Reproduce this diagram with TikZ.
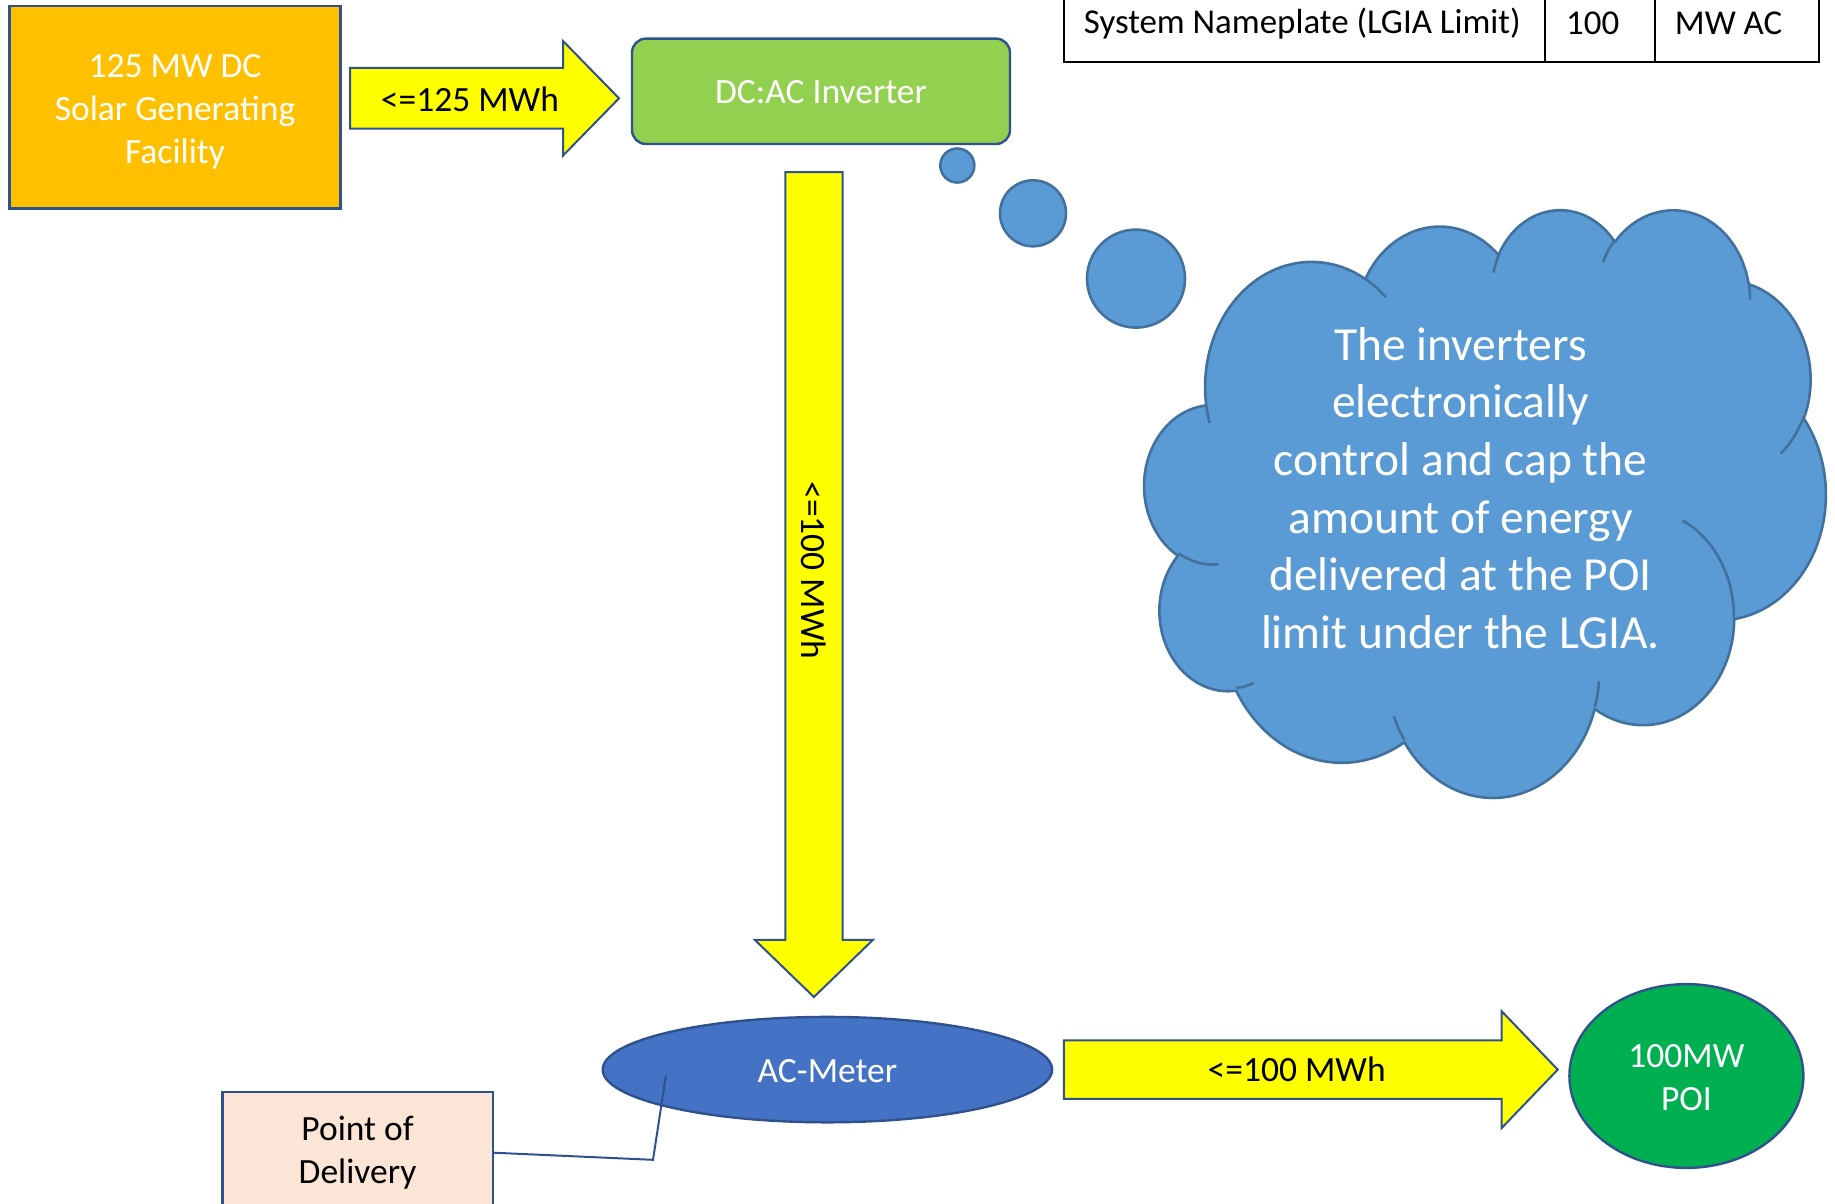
\documentclass[tikz,border=0pt]{standalone}
\usepackage{fontspec}
\setmainfont{Carlito}
\usetikzlibrary{shapes.geometric}

\definecolor{edgeblue}{HTML}{2F528F}
\definecolor{solarorange}{HTML}{FFC000}
\definecolor{invgreen}{HTML}{92D050}
\definecolor{flowyellow}{HTML}{FFFF00}
\definecolor{meterblue}{HTML}{4472C4}
\definecolor{poigreen}{HTML}{00B050}
\definecolor{podpeach}{HTML}{FBE5D6}
\definecolor{cloudfill}{HTML}{5B9BD5}
\definecolor{cloudedge}{HTML}{41719C}

\newcommand\bodyfont{\fontsize{35.5}{43.3}\selectfont}
\newcommand\tablefont{\fontsize{34.9}{43.3}\selectfont}
\newcommand\cloudfont{\fontsize{47.5}{57.6}\selectfont}

\begin{document}
\begin{tikzpicture}[x=1pt,y=-1pt,
  shapebox/.style={draw=edgeblue, line width=2.4pt, align=center, inner sep=0pt, font=\bodyfont},
  boxtext/.style={align=center, inner sep=0pt, font=\bodyfont},
  blockarrow/.style={draw=edgeblue, line width=2pt, fill=flowyellow, line join=miter},
  flowlabel/.style={font=\bodyfont, text=black, inner sep=0pt},
  tablecell/.style={draw=black, line width=2pt, rectangle, inner sep=0pt},
  celltext/.style={font=\tablefont, anchor=west, inner sep=0pt},
  bubble/.style={circle, draw=cloudedge, line width=2.6pt, fill=cloudfill, inner sep=0pt},
  cloudline/.style={draw=cloudedge, line width=2.6pt},
  conn/.style={draw=edgeblue, line width=2pt}
]
\useasboundingbox (0,0) rectangle (1835,1203);
\clip (0,0) rectangle (1835,1203);

% ---- nameplate table ----
\node[tablecell, minimum width=481, minimum height=102] (cellA) at (1304.5,11) {};
\node[tablecell, minimum width=110, minimum height=102] (cellB) at (1600,11) {};
\node[tablecell, minimum width=164, minimum height=102] (cellC) at (1737,11) {};
\node[celltext] (nameplate) at (1083.7,23.4) {System Nameplate (LGIA Limit)};
\node[celltext] (limitvalue) at (1565.9,23.4) {100};
\node[celltext] (limitunit) at (1674.7,23.4) {MW AC};

% ---- main blocks ----
\node[shapebox, fill=solarorange, minimum width=331.2, minimum height=202.4]
  (solar) at (175,107.1) {};
\node[boxtext, text=white, yshift=-4.7pt] (solartext) at (solar.center)
  {125 MW DC\\Solar Generating\\Facility};
\node[shapebox, fill=invgreen, text=white, rounded corners=14pt, minimum width=378, minimum height=105.4]
  (inverter) at (821,91.3) {};
\node[boxtext, text=white, yshift=-1.2pt] (invtext) at (inverter.center) {DC:AC Inverter};
\node[shapebox, ellipse, fill=meterblue, text=white, minimum width=449.4, minimum height=105.4]
  (meter) at (827.4,1069.6) {};
\node[boxtext, text=white, yshift=-1.2pt] (metertext) at (meter.center) {AC-Meter};
\node[shapebox, ellipse, fill=poigreen, text=white, minimum width=234, minimum height=183.8]
  (poi) at (1686.4,1076) {};
\node[boxtext, text=white, yshift=-1.5pt] (poitext) at (poi.center) {100MW\\POI};
\node[shapebox, fill=podpeach, text=black, minimum width=270.3, minimum height=121.4]
  (pod) at (357.55,1152.7) {Point of\\Delivery};

% ---- block arrows ----
\draw[blockarrow] (350,67.9) -- (563,67.9) -- (563,41) -- (619,98.3) -- (563,155.6)
  -- (563,128.7) -- (350,128.7) -- cycle;
\node[flowlabel] (flowA) at (469.9,99.5) {<=125 MWh};

\draw[blockarrow] (785.3,172) -- (842.6,172) -- (842.6,939.8) -- (873,939.8) -- (813.9,997)
  -- (754.8,939.8) -- (785.3,939.8) -- cycle;
\node[flowlabel, rotate=-90] (flowB) at (813.9,570.5) {<=100 MWh};

\draw[blockarrow] (1063.8,1040.4) -- (1501.5,1040.4) -- (1501.5,1011) -- (1557.7,1069.6)
  -- (1501.5,1128.2) -- (1501.5,1098.9) -- (1063.8,1098.9) -- cycle;
\node[flowlabel] (flowC) at (1296.7,1069.6) {<=100 MWh};

% ---- callout line from the point of delivery ----
\coordinate (podbend) at (653,1159.8);
\coordinate (meterpin) at (665.9,1075.5);
\draw[conn] (pod.east) -- (podbend) -- (meterpin);

% ---- thought bubbles ----
\node[bubble, minimum size=34] (dotA) at (957.3,165.5) {};
\node[bubble, minimum size=66] (dotB) at (1033,213.3) {};
\node[bubble, minimum size=98] (dotC) at (1136,278.6) {};

% ---- cloud (arc chain on a 4320 x 4320 grid) ----
\begin{scope}[shift={(1144.6pt,-208.3pt)}, x=0.15764pt, y=-0.13600pt]
  \path[fill=cloudfill, draw=cloudedge, line width=2.6pt, line join=round] (390,1437)
    arc[start angle=172.25, end angle=300.36, x radius=675.3, y radius=919.0]
    arc[start angle=-152.02, end angle=-45.45, x radius=533.3, y radius=726.7]
    arc[start angle=-153.49, end angle=-37.33, x radius=436.5, y radius=594.5]
    arc[start angle=-139.72, end angle=-10.22, x radius=485.7, y radius=659.5]
    arc[start angle=-74.77, end angle=23.21, x radius=533.3, y radius=727.3]
    arc[start angle=-37.53, end angle=81.86, x radius=677.5, y radius=922.0]
    arc[start angle=0.46, end angle=121.98, x radius=578.5, y radius=786.7]
    arc[start angle=16.85, end angle=146.23, x radius=675.2, y radius=921.5]
    arc[start angle=58.98, end angle=150.19, x radius=772.0, y radius=1054.3]
    arc[start angle=83.31, end angle=223.11, x radius=436.0, y radius=591.8]
    arc[start angle=120.36, end angle=264.11, x radius=434.5, y radius=594.5]
    -- cycle;
  % inner creases of the cloud
  \draw[cloudline] (469.3,2617.7) arc[start angle=85.54, end angle=120.36, x radius=434.5, y radius=594.5];
  \draw[cloudline] (692.8,3489.9) arc[start angle=68.23, end angle=83.31, x radius=436.0, y radius=591.8];
  \draw[cloudline] (1647.8,3909.0) arc[start angle=146.23, end angle=158.47, x radius=675.2, y radius=921.5];
  \draw[cloudline] (2882.7,3475.1) arc[start angle=4.74, end angle=16.85, x radius=675.2, y radius=921.5];
  \draw[cloudline] (3412.9,2295.4) arc[start angle=-64.03, end angle=0.46, x radius=578.5, y radius=786.7];
  \draw[cloudline] (4179.8,1535.4) arc[start angle=23.21, end angle=49.64, x radius=533.3, y radius=727.3];
  \draw[cloudline] (3832.4,542.6) arc[start angle=-10.22, end angle=0.825, x radius=485.7, y radius=659.5];
  \draw[cloudline] (2907.8,395.2) arc[start angle=-156.29, end angle=-139.72, x radius=485.7, y radius=659.5];
  \draw[cloudline] (2214.1,472.0) arc[start angle=-167.72, end angle=-153.49, x radius=436.5, y radius=594.5];
  \draw[cloudline] (1400.0,519.2) arc[start angle=-59.64, end angle=-45.75, x radius=675.3, y radius=919.0];
  \draw[cloudline] (412.7,1578.9) arc[start angle=163.19, end angle=172.25, x radius=675.3, y radius=919.0];
\end{scope}
\node[font=\cloudfont, text=white, align=center, inner sep=0pt] (note) at (1460.5,488)
  {The inverters\\electronically\\control and cap the\\amount of energy\\delivered at the POI\\limit under the LGIA.};

\end{tikzpicture}
\end{document}
